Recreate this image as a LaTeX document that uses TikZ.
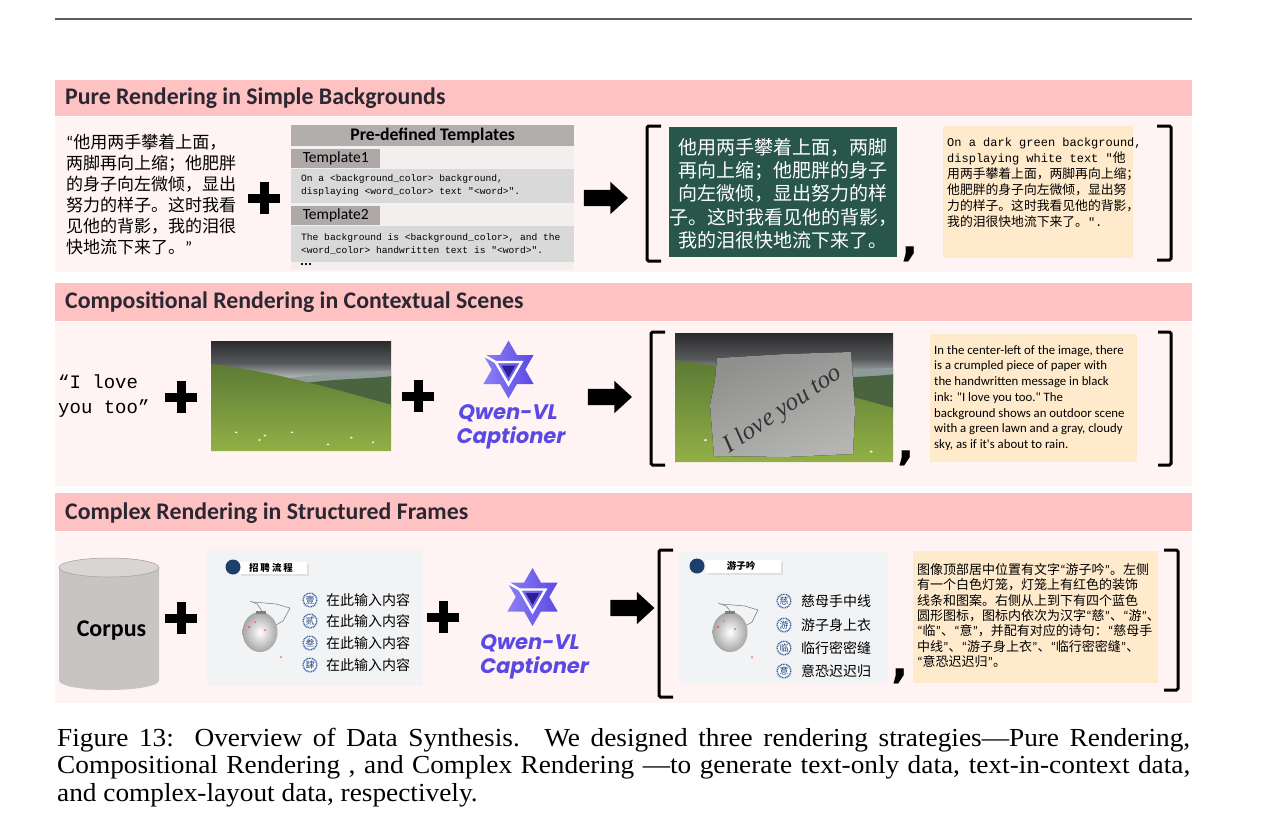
\documentclass[tikz,border=0pt]{standalone}
\usepackage{fontspec}
\setmainfont{Liberation Serif}
\setmonofont{Liberation Mono}
\newfontfamily\cjk{Noto Sans CJK SC}
\newfontfamily\carlito{Carlito}
\newfontfamily\dejavu{DejaVu Sans}
\newfontfamily\capfont{Liberation Serif}[FakeStretch=1.05]
\newfontfamily\qwenfont{Poppins}[FakeSlant=0.18]
\usetikzlibrary{shapes.arrows}

\definecolor{hdrpink}{HTML}{FFC2C2}
\definecolor{bodypink}{HTML}{FFF4F3}
\definecolor{hdrtext}{HTML}{2A2732}
\definecolor{tplhead}{HTML}{B2AEAE}
\definecolor{tplbg}{HTML}{F3EFEE}
\definecolor{tpltab}{HTML}{AFA8A8}
\definecolor{tpltext}{HTML}{D9D9D9}
\definecolor{board}{HTML}{28564A}
\definecolor{beige}{HTML}{FFEACC}
\definecolor{qwen}{HTML}{5A4AE3}
\definecolor{qwendark}{HTML}{2E1F99}
\definecolor{qwenlight}{HTML}{8C80F5}
\definecolor{cylbody}{HTML}{C9C4C4}
\definecolor{cyltop}{HTML}{D9D5D5}
\definecolor{slidebg}{HTML}{F2F3F5}
\definecolor{navy}{HTML}{1E3F6E}
\definecolor{iconblue}{HTML}{3A64A8}
\definecolor{rulegray}{HTML}{5E5E5E}
\definecolor{skyA}{HTML}{2A2A2C}
\definecolor{skyM}{HTML}{56595B}
\definecolor{skyB}{HTML}{C9CDCB}
\definecolor{farhill}{HTML}{8F9B9B}
\definecolor{midhill}{HTML}{4A6440}
\definecolor{hillA}{HTML}{5C7A34}
\definecolor{hillB}{HTML}{92B046}
\definecolor{paperA}{HTML}{8E8E8C}
\definecolor{paperB}{HTML}{B4B4B2}

\newcommand\zhA{\cjk\fontsize{12.8}{16}\selectfont}
\newcommand\zql{{\carlito “}}
\newcommand\zqr{{\carlito ”}}

\newcommand\meadow[4]{%
  \begin{scope}[shift={(#1,#2)}, xscale=#3/100, yscale=#4/100]
    \shade[top color=skyA, bottom color=skyM] (0,0) rectangle (100,20);
    \shade[top color=skyM, bottom color=skyB] (0,20) rectangle (100,36);
    \fill[farhill] (30,37) .. controls (55,30) and (80,28) .. (100,27) -- (100,42) -- (30,42) -- cycle;
    \fill[midhill] (40,42) .. controls (60,34) and (85,35) .. (100,32) -- (100,62) -- (40,62) -- cycle;
    \shade[top color=hillA, bottom color=hillB] (0,21) .. controls (35,28) and (65,42) .. (100,58) -- (100,100) -- (0,100) -- cycle;
    \fill[white!85!pink] (14,83) circle (0.8) (27,90) circle (0.8) (30,86) circle (0.8) (45,83) circle (0.8) (65,94) circle (0.8) (78,88) circle (0.8) (90,92) circle (0.8);
  \end{scope}}

\tikzset{
  hdrlabel/.style={anchor=west, inner sep=0pt, text=hdrtext, font=\carlito\bfseries\fontsize{23.8}{26}\selectfont},
  plusmark/.style={minimum size=32pt, inner sep=0pt, path picture={
      \fill[black] ([shift={(-16pt,-4.5pt)}]path picture bounding box.center) rectangle ([shift={(16pt,4.5pt)}]path picture bounding box.center);
      \fill[black] ([shift={(-4.5pt,-16pt)}]path picture bounding box.center) rectangle ([shift={(4.5pt,16pt)}]path picture bounding box.center);}},
  bigarrow/.style={single arrow, fill=black, inner xsep=0pt, inner ysep=8pt, minimum height=44pt, single arrow head extend=8pt, single arrow tip angle=85},
  bracketline/.style={line width=3pt, rounded corners=1.5pt},
  commamark/.style={inner sep=0pt, font=\dejavu\bfseries\fontsize{46}{46}\selectfont},
  qwentext/.style={text=qwen, inner sep=0pt, font=\qwenfont\bfseries\fontsize{21}{24}\selectfont},
  iconchar/.style={inner sep=0pt, text=navy, font=\cjk\fontsize{9}{9}\selectfont},
  rowtext/.style={anchor=west, inner sep=0pt, font=\cjk\fontsize{14}{16}\selectfont},
  beigetext/.style={anchor=north west, align=left, inner sep=0pt},
  qwenlogo/.pic={
    \shade[left color=qwenlight, right color=qwen] (90:29) -- (210:29) -- (330:29) -- cycle;
    \shade[left color=qwenlight, right color=qwen] (270:29) -- (30:29) -- (150:29) -- cycle;
    \draw[white, line width=2.4pt] (90:15) -- (210:15) -- (330:15) -- cycle;
    \draw[white, line width=2.4pt] (210:15) -- (210:29);
    \fill[qwendark] (90:8) -- (210:8) -- (330:8) -- cycle;
  },
  slideicon/.pic={
    \fill[white] (0,0) circle (7.5);
    \draw[iconblue, line width=1.5pt, dash pattern=on 1pt off 0.7pt] (0,0) circle (6.8);
  }
}

\begin{document}
\begin{tikzpicture}[x=1pt,y=-1pt]
\useasboundingbox (0,0) rectangle (1268,836);
\fill[white] (0,0) rectangle (1268,836);
\draw[line width=2.2pt, rulegray] (55,19) -- (1192,19);

%%%%%%%%%%%%%%%% Section 1
\fill[hdrpink] (55,80) rectangle (1192,116);
\fill[bodypink] (55,117) rectangle (1192,272);
\node[hdrlabel] (t1) at (65,98) {Pure Rendering in Simple Backgrounds};

\node[anchor=north west, inner sep=0pt, align=left, font=\cjk\fontsize{17}{21}\selectfont] (quote1) at (66,134)
 {\zql 他用两手攀着上面，\\两脚再向上缩；他肥胖\\的身子向左微倾，显出\\努力的样子。这时我看\\见他的背影，我的泪很\\快地流下来了。\zqr};
\node[plusmark, fill=bodypink] (plus1) at (264,198) {};

\fill[tplbg] (291,125) rectangle (574,270);
\node[fill=tplhead, anchor=north west, minimum width=283pt, minimum height=21pt, inner sep=0pt,
      font=\carlito\bfseries\fontsize{17.7}{19}\selectfont] (tplhd) at (291,125) {Pre-defined Templates};
\node[fill=tpltab, anchor=north west, minimum width=89pt, minimum height=19pt, inner sep=0pt,
      font=\carlito\fontsize{15.5}{17}\selectfont] (tab1) at (291,149) {Template1};
\node[fill=tpltext, anchor=north west, minimum width=283pt, minimum height=34pt, inner sep=0pt] (tx1bg) at (291,169) {};
\node[anchor=west, align=left, inner sep=0pt, font=\ttfamily\fontsize{9.6}{13}\selectfont] (tx1) at (301,186)
 {On a <background\_color> background,\\displaying <word\_color> text "<word>".};
\node[fill=tpltab, anchor=north west, minimum width=89pt, minimum height=19pt, inner sep=0pt,
      font=\carlito\fontsize{15.5}{17}\selectfont] (tab2) at (291,206) {Template2};
\node[fill=tpltext, anchor=north west, minimum width=283pt, minimum height=36pt, inner sep=0pt] (tx2bg) at (291,226) {};
\node[anchor=west, align=left, inner sep=0pt, font=\ttfamily\fontsize{9.6}{13}\selectfont] (tx2) at (301,244)
 {The background is <background\_color>, and the\\<word\_color> handwritten text is "<word>".};
\node[anchor=west, inner sep=0pt, font=\carlito\bfseries\fontsize{15}{15}\selectfont] (dots1) at (300,264) {...};

\node[bigarrow] (arr1) at (601.5,198) {};
\draw[bracketline] (661,126) -- (647,126) -- (647,261) -- (661,261);

\node[fill=board, anchor=north west, minimum width=228pt, minimum height=130pt, inner sep=0pt] (boardbg) at (669,127) {};
\node[text=white, align=center, inner sep=0pt, font=\cjk\fontsize{19}{23.3}\selectfont] (boardtxt) at (783,193.5)
 {他用两手攀着上面，两脚\\再向上缩；他肥胖的身子\\向左微倾，显出努力的样\\子。这时我看见他的背影，\\我的泪很快地流下来了。};
\node[commamark] (comma1) at (910,254) {,};

\fill[beige] (943,126) rectangle (1133,258);
\node[beigetext, font=\ttfamily\fontsize{12}{16}\selectfont] (cap1txt) at (947,138)
 {On a dark green background,\\
  displaying white text "{\zhA 他}\\
  {\zhA 用两手攀着上面，两脚再向上缩；}\\
  {\zhA 他肥胖的身子向左微倾，显出努}\\
  {\zhA 力的样子。这时我看见他的背影，}\\
  {\zhA 我的泪很快地流下来了。}".};
\draw[bracketline] (1157,126) -- (1171,126) -- (1171,260) -- (1157,260);

%%%%%%%%%%%%%%%% Section 2
\fill[hdrpink] (55,283) rectangle (1192,321);
\fill[bodypink] (55,322) rectangle (1192,486);
\node[hdrlabel] (t2) at (65,302) {Compositional Rendering in Contextual Scenes};

\node[anchor=west, align=left, inner sep=0pt, font=\ttfamily\fontsize{19}{25}\selectfont] (quote2) at (58,396) {“I love\\you too”};
\node[plusmark, fill=bodypink] (plus2) at (181,397) {};
\meadow{211}{341}{180}{110}
\node[plusmark, fill=bodypink] (plus3) at (418,396) {};
\pic at (508.5,369.5) {qwenlogo};
\node[qwentext] (qv1) at (507,413) {Qwen-VL};
\node[qwentext] (qc1) at (510,438) {Captioner};
\node[bigarrow] (arr2) at (605.5,397) {};
\draw[bracketline] (665,332) -- (651,332) -- (651,465) -- (665,465);

\meadow{675}{333}{218}{129}
\fill[top color=paperA, bottom color=paperB, shading angle=20] (717,358) -- (785,354) -- (851,352) -- (853,380) -- (855,410) -- (853,454) -- (785,457) -- (714,456) -- (712,430) -- (710,405) -- (715,380) -- cycle;
\node[rotate=34, text=black!80, inner sep=0pt, font=\itshape\fontsize{25}{25}\selectfont] (lovetxt) at (783,410) {I love you too};
\node[commamark] (comma2) at (906,458) {,};

\fill[beige] (930,334) rectangle (1137,462);
\node[beigetext, font=\carlito\fontsize{12.8}{15.75}\selectfont] (cap2txt) at (934,345)
 {In the center-left of the image, there\\is a crumpled piece of paper with\\the handwritten message in black\\ink: "I love you too." The\\background shows an outdoor scene\\with a green lawn and a gray, cloudy\\sky, as if it's about to rain.};
\draw[bracketline] (1158,332) -- (1171,332) -- (1171,465) -- (1158,465);

%%%%%%%%%%%%%%%% Section 3
\fill[hdrpink] (55,493) rectangle (1192,531);
\fill[bodypink] (55,532) rectangle (1192,703);
\node[hdrlabel] (t3) at (65,513) {Complex Rendering in Structured Frames};

\fill[cylbody] (59,567.5) -- (59,680.5) arc[start angle=180, end angle=0, x radius=50, y radius=9.5] -- (159,567.5) -- cycle;
\fill[cyltop] (109,567.5) ellipse (50 and 9.5);
\draw[cylbody!80!black, line width=0.5pt] (109,567.5) ellipse (50 and 9.5);
\node[inner sep=0pt, font=\carlito\bfseries\fontsize{24}{24}\selectfont] (corpus) at (111.5,631) {Corpus};
\node[plusmark, fill=bodypink] (plus4) at (181,618) {};

% slide 1
\fill[slidebg] (207,549) rectangle (423,686);
\fill[black!12] (241,564) rectangle (309,576);
\fill[white] (239,562) rectangle (307,574);
\fill[navy] (233,567) circle (7.5);
\node[inner sep=0pt, font=\cjk\bfseries\fontsize{9.5}{10}\selectfont] (s1title) at (271,568) {招\hspace{2pt}聘\hspace{2pt}流\hspace{2pt}程};
\draw[black!55, line width=0.5pt] (250,601) -- (257,604) -- (262,611);
\draw[black!55, line width=0.5pt] (253,602) -- (276,604) -- (290,608) -- (283,621) -- (276,625);
\shade[inner color=white, outer color=black!35] (260,632) ellipse (17.5 and 20);
\fill[black!50] (256,611) rectangle (266,614);
\fill[red!65] (249,627) circle (1.4) (255,622) circle (1) (265,630) circle (1) (281,657) circle (1);
\foreach \yy/\ch/\nm in {600/壹/a,621/贰/b,643/叁/c,665/肆/d}{
  \pic at (310,\yy) {slideicon};
  \node[iconchar] (s1i\nm) at (310,\yy) {\ch};
  \node[rowtext] (s1r\nm) at (326,\yy) {在此输入内容};
}
\node[plusmark, fill=bodypink] (plus5) at (443,617) {};
\pic at (532.5,597) {qwenlogo};
\node[qwentext] (qv2) at (529,643) {Qwen-VL};
\node[qwentext] (qc2) at (533.5,668) {Captioner};
\node[bigarrow] (arr3) at (628,608) {};
\draw[bracketline] (673,550) -- (659,550) -- (659,697) -- (673,697);

% slide 2
\fill[slidebg] (678,552) rectangle (888,683);
\fill[black!12] (708,562) rectangle (783,575);
\fill[white] (706,560) rectangle (781,573);
\fill[navy] (697,566) circle (7.5);
\node[inner sep=0pt, font=\cjk\bfseries\fontsize{9.5}{10}\selectfont] (s2title) at (741,566) {游子吟};
\draw[black!55, line width=0.5pt] (718,603) -- (726,606) -- (731,612);
\draw[black!55, line width=0.5pt] (721,604) -- (745,606) -- (758,610) -- (752,622) -- (745,626);
\shade[inner color=white, outer color=black!35] (730,632) ellipse (17.5 and 20);
\fill[black!50] (725,611) rectangle (735,614);
\fill[red!65] (718,627) circle (1.4) (724,621) circle (1) (735,629) circle (1) (752,657) circle (1);
\foreach \yy/\ch/\tx/\nm in {601/慈/慈母手中线/a,625/游/游子身上衣/b,648/临/临行密密缝/c,671/意/意恐迟迟归/d}{
  \pic at (784,\yy) {slideicon};
  \node[iconchar] (s2i\nm) at (784,\yy) {\ch};
  \node[rowtext] (s2r\nm) at (801,\yy) {\tx};
}
\node[commamark] (comma3) at (900,676) {,};

\fill[beige] (913,551) rectangle (1158,683);
\node[beigetext, font=\cjk\fontsize{13}{15.4}\selectfont] (cap3txt) at (917,563)
 {图像顶部居中位置有文字\zql 游子吟\zqr 。左侧\\有一个白色灯笼，灯笼上有红色的装饰\\线条和图案。右侧从上到下有四个蓝色\\圆形图标，图标内依次为汉字\zql 慈\zqr 、\zql 游\zqr 、\\\zql 临\zqr 、\zql 意\zqr ，并配有对应的诗句：\zql 慈母手\\中线\zqr 、\zql 游子身上衣\zqr 、\zql 临行密密缝\zqr 、\\\zql 意恐迟迟归\zqr 。};
\draw[bracketline] (1164,550) -- (1178,550) -- (1178,690) -- (1164,690);

%%%%%%%%%%%%%%%% Caption
\node[anchor=west, inner sep=0pt, font=\capfont\fontsize{26}{28}\selectfont] (capl1) at (57,740)
 {\makebox[1133pt][s]{Figure 13:\hspace{4pt} Overview of Data Synthesis.\hspace{4pt} We designed three rendering strategies—Pure Rendering,}};
\node[anchor=west, inner sep=0pt, font=\capfont\fontsize{26}{28}\selectfont] (capl2) at (57,767)
 {\makebox[1133pt][s]{Compositional Rendering , and Complex Rendering —to generate text-only data, text-in-context data,}};
\node[anchor=west, inner sep=0pt, font=\capfont\fontsize{26}{28}\selectfont] (capl3) at (57,795)
 {and complex-layout data, respectively.};
\end{tikzpicture}
\end{document}
